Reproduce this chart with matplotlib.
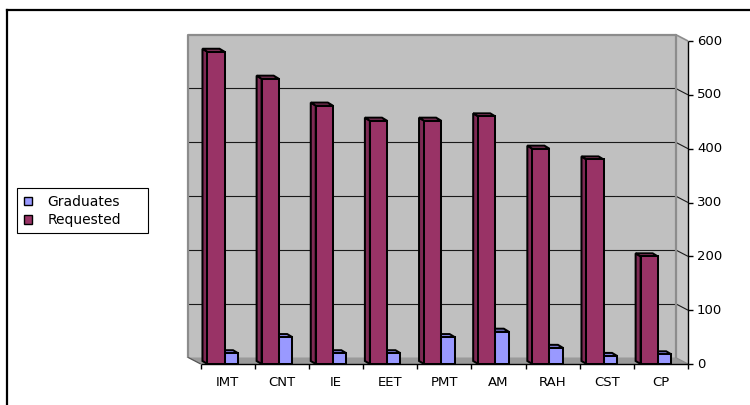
import matplotlib
matplotlib.use("Agg")
import matplotlib.pyplot as plt
from matplotlib.patches import Polygon, Patch, Rectangle
from matplotlib.lines import Line2D

categories = ["IMT", "CNT", "IE", "EET", "PMT", "AM", "RAH", "CST", "CP"]
graduates = [20, 50, 20, 20, 50, 60, 30, 15, 18]
requested = [580, 530, 480, 452, 452, 460, 400, 380, 200]
y_ticks = [0, 100, 200, 300, 400, 500, 600]

plt.rcParams["font.family"] = ["DejaVu Sans"]
FS = 9.5

W, H = 750, 405
fig = plt.figure(figsize=(W / 100, H / 100), dpi=100)
fig.patch.set_facecolor("white")

# front plane of the 3-D box, in pixels
x0, x1, yb, yt = 200.7, 688.0, 364.0, 41.0
ax = fig.add_axes([x0 / W, (H - yb) / H, (x1 - x0) / W, (yb - yt) / H])
n = len(categories)
ax.set_xlim(0, n)
ax.set_ylim(0, 600)
ax.axis("off")

cx = n / (x1 - x0)          # category units per pixel
cy = 600 / (yb - yt)        # value units per pixel

# depth of the box (back wall offset) and of the columns
dxw, dyw = -12.5 * cx, 6.5 * cy
dxb, dyb = -5.0 * cx, 3.0 * cy


def poly(pts, fc, ec="none", lw=0, z=1):
    ax.add_patch(Polygon(pts, closed=True, facecolor=fc, edgecolor=ec,
                         linewidth=lw, zorder=z, clip_on=False,
                         joinstyle="miter"))


def line(xs, ys, c="black", lw=0.8, z=2):
    ax.add_line(Line2D(xs, ys, color=c, linewidth=lw, zorder=z,
                       clip_on=False, solid_capstyle="butt"))


# back wall
poly([(dxw, dyw), (n + dxw, dyw), (n + dxw, 600 + dyw), (dxw, 600 + dyw)],
     "#c0c0c0", z=1)
# floor
poly([(0, 0), (n, 0), (n + dxw, dyw), (dxw, dyw)], "#9a9a9a", z=1)
# right side wall
poly([(n + dxw, dyw), (n, 0), (n, 600), (n + dxw, 600 + dyw)], "#c6c6c6", z=1)

# wall gridlines and the connectors on the side wall
for v in y_ticks[1:-1]:
    line([dxw, n + dxw], [v + dyw, v + dyw], "#1a1a1a", 0.8, 2)
    line([n + dxw, n], [v + dyw, v], "#1a1a1a", 0.8, 2)

# wall borders
edge = "#8c8c8c"
line([dxw, dxw, n + dxw, n + dxw], [dyw, 600 + dyw, 600 + dyw, dyw], edge, 1.6, 2)
line([n + dxw, n], [600 + dyw, 600], edge, 1.2, 2)
line([dxw, 0], [dyw, 0], "#555555", 0.9, 2)
line([n + dxw, n], [dyw, 0], edge, 0.9, 2)

# columns
req_l, req_r = 0.125, 0.44
grd_l, grd_r = 0.44, 0.69
series = [
    (graduates, grd_l, grd_r, "#9999ff", "#7a7ad6", "#8c8cf0"),
    (requested, req_l, req_r, "#993366", "#7e2a54", "#a0406f"),
]
EC, LW = "black", 1.45
for i in range(n):
    for vals, l, r, front, side, top in series:
        v = vals[i]
        a, b = i + l, i + r
        poly([(a + dxb, dyb), (a, 0), (a, v), (a + dxb, v + dyb)], side, EC, LW, 3)
        poly([(a, v), (b, v), (b + dxb, v + dyb), (a + dxb, v + dyb)], top, EC, LW, 3)
        poly([(a, 0), (b, 0), (b, v), (a, v)], front, EC, LW, 3)

# front axis lines
line([0, n], [0, 0], "black", 1.0, 4)
line([n, n], [0, 600], "black", 1.0, 4)

# value ticks and labels on the right
for v in y_ticks:
    line([n, n + 5 * cx], [v, v], "black", 1.0, 4)
    ax.text(n + 9 * cx, v, str(v), ha="left", va="center", fontsize=FS,
            color="black", clip_on=False)

# category ticks and labels
for i in range(n + 1):
    line([i, i], [0, -5 * cy], "black", 1.0, 4)
for i, c in enumerate(categories):
    ax.text(i + 0.5, -19 * cy, c, ha="center", va="center", fontsize=FS,
            color="black", clip_on=False)

# legend
handles = [Patch(facecolor="#9999ff", edgecolor="black", linewidth=1.0),
           Patch(facecolor="#993366", edgecolor="black", linewidth=1.0)]
fig.legend(handles, ["Graduates", "Requested"], loc="upper left",
           bbox_to_anchor=(17 / W, (H - 188) / H), borderaxespad=0,
           fontsize=10, handlelength=0.6, handleheight=0.6,
           handletextpad=1.1, labelspacing=0.3, borderpad=0.5,
           frameon=False)
fig.add_artist(Rectangle((17 / W, (H - 233) / H), 131 / W, 45 / H,
                         transform=fig.transFigure, fill=False,
                         edgecolor="black", linewidth=0.8))

# chart area border
fig.add_artist(Line2D([7 / W, 1.0], [(H - 10) / H, (H - 10) / H],
                      color="black", linewidth=1.6,
                      transform=fig.transFigure))
fig.add_artist(Line2D([7 / W, 7 / W], [0, (H - 10) / H],
                      color="black", linewidth=1.6,
                      transform=fig.transFigure))

fig.savefig("out.png", dpi=100, facecolor="white")
